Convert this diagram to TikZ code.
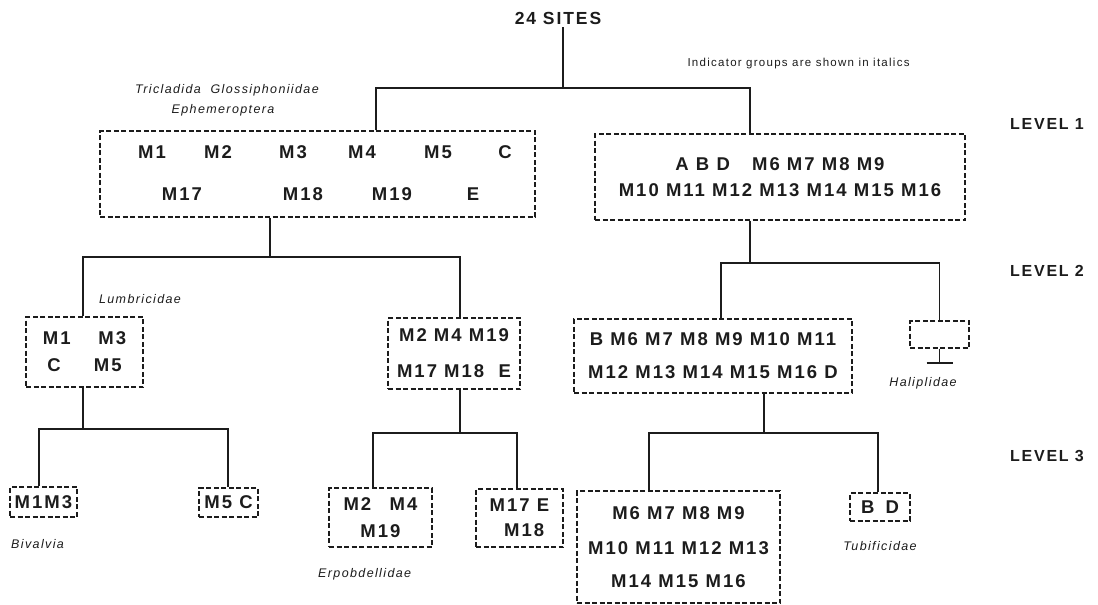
\documentclass[tikz,border=0pt]{standalone}
\usepackage{fontspec}
\setmainfont{Liberation Sans}[LetterSpace=11]
\usetikzlibrary{calc}
\definecolor{ink}{RGB}{28,28,28}
\tikzset{
	link/.style={line width=1.8pt,draw=ink},
	grp/.style={draw=ink,line width=1.2pt,dash pattern=on 5pt off 2.5pt,
		inner sep=0pt,align=center,text=ink,
		font=\fontsize{18.5}{27}\selectfont\bfseries},
	site/.style={inner sep=0pt,text=ink,font=\fontsize{18.5}{20}\selectfont\bfseries},
	taxon/.style={inner sep=1pt,text=ink,font=\fontsize{12.5}{15}\selectfont\itshape},
	lvl/.style={inner sep=1pt,text=ink,font=\fontsize{16}{19}\selectfont\bfseries},
}

\begin{document}
\begin{tikzpicture}[x=1pt,y=-1pt]
	\useasboundingbox (0,0) rectangle (1098,605);
	
	\node[site,inner sep=3pt,font=\fontsize{17.5}{20}\selectfont\bfseries] (sites) at (558,18) {24 SITES};
	\node[anchor=west,text=ink,font=\fontsize{11.5}{13}\selectfont] (note) at (684,64)
	{Indicator groups are shown in italics};
	\node[lvl] (lev1) at (1047,124) {LEVEL 1};
	\node[lvl] (lev2) at (1047,271) {LEVEL 2};
	\node[lvl] (lev3) at (1047,456) {LEVEL 3};
	
	\node[grp,minimum width=435pt,minimum height=86pt] (triclad) at (317.5,174) {};
	\node[site] (tri-m1) at (152,152) {M1};
	\node[site] (tri-m2) at (218,152) {M2};
	\node[site] (tri-m3) at (293,152) {M3};
	\node[site] (tri-m4) at (362,152) {M4};
	\node[site] (tri-m5) at (438,152) {M5};
	\node[site] (tri-c) at (505,152) {C};
	\node[site] (tri-m17) at (182,194) {M17};
	\node[site] (tri-m18) at (303,194) {M18};
	\node[site] (tri-m19) at (392,194) {M19};
	\node[site] (tri-e) at (473,194) {E};
	\node[taxon] (lab-tri) at (227,90) {Tricladida\ \ Glossiphoniidae};
	\node[taxon] (lab-eph) at (223,110) {Ephemeroptera};
	
	\node[grp,minimum width=370pt,minimum height=86pt] (rest) at (780,177)
	{A B D\hspace{1.2em}M6 M7 M8 M9\\[-1pt]M10 M11 M12 M13 M14 M15 M16};
	
	\node[grp,minimum width=117pt,minimum height=70pt] (lumbr) at (84.5,352)
	{M1\hspace{1.5em}M3\\C\hspace{1.8em}M5};
	\node[grp,minimum width=132pt,minimum height=71pt] (ms2) at (454,353.5)
	{M2 M4 M19\\[9pt]M17 M18\ \ E};
	\node[grp,minimum width=278pt,minimum height=74pt] (bms) at (713,356)
	{B M6 M7 M8 M9 M10 M11\\[6pt]M12 M13 M14 M15 M16 D};
	\node[grp,minimum width=59pt,minimum height=27pt] (halip) at (939.5,334.5) {};
	\node[taxon] (lab-lum) at (140,299) {Lumbricidae};
	\node[taxon] (lab-hal) at (923,383) {Haliplidae};
	
	\node[grp,minimum width=67pt,minimum height=30pt] (m1m3) at (43.5,502) {M1M3};
	\node[grp,minimum width=59pt,minimum height=29pt] (m5c) at (228.5,502.5) {M5 C};
	\node[grp,minimum width=103pt,minimum height=59pt] (m2m4) at (380.5,517.5)
	{M2\hspace{1em}M4\\M19};
	\node[grp,minimum width=87pt,minimum height=58pt] (m17e) at (519.5,518)
	{M17\ E\\[-2pt]\hspace{0.5em}M18};
	\node[grp,minimum width=203pt,minimum height=112pt] (m6m16) at (678.5,547)
	{M6 M7 M8 M9\\[8pt]M10 M11 M12 M13\\[6pt]M14 M15 M16};
	\node[grp,minimum width=60pt,minimum height=28pt] (bd) at (880,507)
	{B\hspace{0.6em}D};
	\node[taxon,anchor=west] (lab-biv) at (10,544) {Bivalvia};
	\node[taxon,anchor=west] (lab-erp) at (317,574) {Erpobdellidae};
	\node[taxon] (lab-tub) at (880,546) {Tubificidae};
	
	\coordinate (k0) at (563,88);
	\draw[link] (sites.south -| k0) -- (k0);
	\draw[link] (triclad.north -| 376,0) |- (k0) -| (rest.north -| 750,0);
	
	\coordinate (k1) at (270,257);
	\draw[link] (triclad.south -| k1) -- (k1);
	\draw[link] (lumbr.north -| 83,0) |- (k1) -| (ms2.north -| 460,0);
	
	\coordinate (k2) at (750,263);
	\draw[link] (rest.south -| k2) -- (k2);
	\draw[link] (bms.north -| 721,0) |- (k2) -| (halip.north);
	
	\coordinate (tee) at (939.5,363);
	\draw[link] (halip.south) -- (tee);
	\draw[link] ($(tee)+(-13,0)$) -- ($(tee)+(13,0)$);
	
	\coordinate (k3) at (83,429);
	\draw[link] (lumbr.south -| k3) -- (k3);
	\draw[link] (m1m3.north -| 39,0) |- (k3) -| (m5c.north -| 228,0);
	
	\coordinate (k4) at (460,433);
	\draw[link] (ms2.south -| k4) -- (k4);
	\draw[link] (m2m4.north -| 373,0) |- (k4) -| (m17e.north -| 517,0);
	
	\coordinate (k5) at (764,433);
	\draw[link] (bms.south -| k5) -- (k5);
	\draw[link] (m6m16.north -| 649,0) |- (k5) -| (bd.north -| 878,0);
	
\end{tikzpicture}
\end{document}
